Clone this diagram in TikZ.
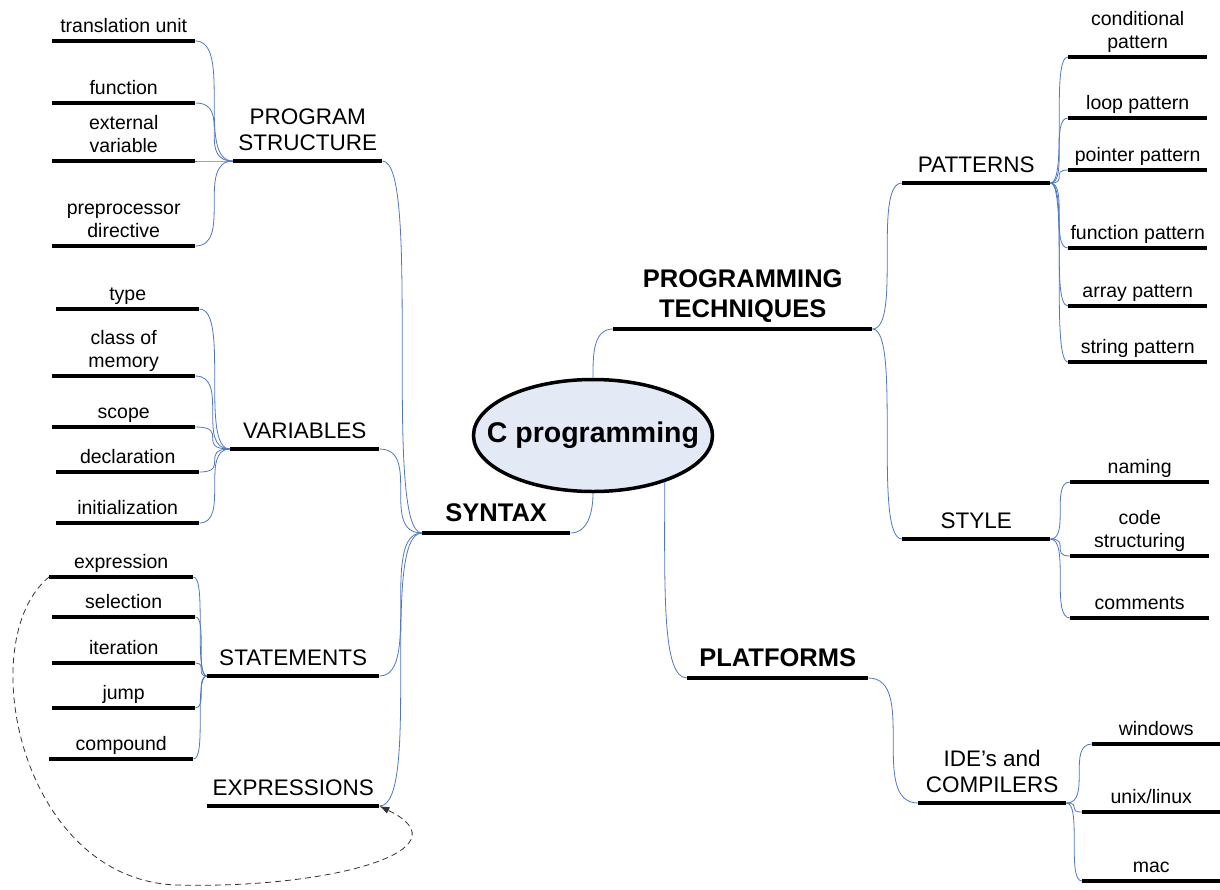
\documentclass[tikz,border=0pt]{standalone}
\usepackage{fontspec}
\setmainfont{Liberation Sans}
\usetikzlibrary{shapes.geometric,calc,arrows.meta}
\definecolor{linkblue}{RGB}{80,118,196}
\definecolor{hubfill}{RGB}{228,233,246}
\tikzset{
  bar/.style={anchor=south west, inner xsep=0pt, text depth=0pt, align=center,
    append after command={(\tikzlastnode.south west) edge[line width=4pt] (\tikzlastnode.south east)}},
  leaf/.style={bar, inner ysep=8.5pt, font=\fontsize{19.5}{22.5}\selectfont},
  topic/.style={bar, inner ysep=10pt, font=\fontsize{22.5}{26}\selectfont},
  branch/.style={bar, inner ysep=11.5pt, font=\fontsize{25.5}{30}\selectfont\bfseries},
  hub/.style={ellipse, draw, line width=3.5pt, fill=hubfill, inner sep=0pt,
    minimum width=239, minimum height=112, font=\fontsize{28.5}{32}\selectfont\bfseries},
  link/.style={draw=linkblue, line width=0.8pt},
  hlink/.style={link, to path={let \p1=(\tikztostart), \p2=(\tikztotarget) in
    .. controls (\x2,\y1) and (\x1,\y2) .. (\tikztotarget)}},
  backlink/.style={draw=black!80, line width=0.8pt, dash pattern=on 6pt off 4pt, -{Latex[length=10pt,width=7pt]}}
}
\begin{document}
\begin{tikzpicture}[x=1pt,y=1pt]
\useasboundingbox (0,0) rectangle (1220,-889);
\node[hub] (cp) at (593,-435.5) {\makebox[0pt]{C programming}};

\node[branch, minimum width=148] (syn) at (422,-533) {SYNTAX};
\node[topic, minimum width=149] (ps) at (233,-161) {PROGRAM\\STRUCTURE};
\node[leaf, minimum width=143] (tu) at (52,-41) {translation unit};
\node[leaf, minimum width=143] (fn) at (52,-103) {function};
\node[leaf, minimum width=143] (ev) at (52,-161) {external\\variable};
\node[leaf, minimum width=143] (pd) at (52,-246) {preprocessor\\directive};

\node[topic, minimum width=149] (var) at (230,-449) {VARIABLES};
\node[leaf, minimum width=143] (ty) at (56,-309) {type};
\node[leaf, minimum width=143] (cm) at (52,-376) {class of\\memory};
\node[leaf, minimum width=143] (sc) at (52,-427) {scope};
\node[leaf, minimum width=143] (de) at (56,-472) {declaration};
\node[leaf, minimum width=143] (init) at (56,-523) {initialization};

\node[topic, minimum width=172] (stm) at (207,-676) {STATEMENTS};
\node[leaf, minimum width=144] (ex) at (49,-577) {expression};
\node[leaf, minimum width=143] (se) at (52,-617) {selection};
\node[leaf, minimum width=143] (it) at (52,-663) {iteration};
\node[leaf, minimum width=143] (ju) at (52,-708) {jump};
\node[leaf, minimum width=144] (co) at (49,-759) {compound};
\node[topic, minimum width=172] (exs) at (207,-806) {EXPRESSIONS};

\node[branch, minimum width=259] (pt) at (613,-329) {PROGRAMMING\\TECHNIQUES};
\node[topic, minimum width=148] (pat) at (902,-183) {PATTERNS};
\node[leaf, minimum width=139] (cond) at (1068,-57) {conditional\\pattern};
\node[leaf, minimum width=139] (loop) at (1068,-118) {loop pattern};
\node[leaf, minimum width=139] (ptr) at (1068,-170) {pointer pattern};
\node[leaf, minimum width=139] (func) at (1068,-248) {function pattern};
\node[leaf, minimum width=139] (arr) at (1068,-306) {array pattern};
\node[leaf, minimum width=139] (str) at (1068,-362) {string pattern};
\node[topic, minimum width=148] (sty) at (902,-539) {STYLE};
\node[leaf, minimum width=139] (nam) at (1070,-482) {naming};
\node[leaf, minimum width=139] (cs) at (1070,-556) {code\\structuring};
\node[leaf, minimum width=139] (com) at (1070,-618) {comments};

\node[branch, minimum width=181] (plat) at (687,-678) {PLATFORMS};
\node[topic, minimum width=148] (ide) at (918,-803) {IDE’s and\\COMPILERS};
\node[leaf, minimum width=128] (win) at (1092,-744) {windows};
\node[leaf, minimum width=138] (unix) at (1082,-812) {unix/linux};
\node[leaf, minimum width=138] (mac) at (1082,-881) {mac};

\draw[link] (cp.north) to[out=90,in=180] (pt.south west);
\draw[link] (cp.south) to[out=-90,in=0] (syn.south east);
\draw[link] (cp.-33) to[out=-90,in=180,out distance=110pt,in distance=25pt] (plat.south west);
\foreach \c in {ps,var,stm,exs} \draw[hlink] (syn.south west) to (\c.south east);
\foreach \c in {tu,fn,ev,pd} \draw[hlink] (ps.south west) to (\c.south east);
\foreach \c in {ty,cm,sc,de,init} \draw[hlink] (var.south west) to (\c.south east);
\foreach \c in {ex,se,it,ju,co} \draw[hlink] (stm.south west) to (\c.south east);
\foreach \c in {pat,sty} \draw[hlink] (pt.south east) to (\c.south west);
\foreach \c in {cond,loop,ptr,func,arr,str} \draw[hlink] (pat.south east) to (\c.south west);
\foreach \c in {nam,cs,com} \draw[hlink] (sty.south east) to (\c.south west);
\draw[hlink] (plat.south east) to (ide.south west);
\foreach \c in {win,unix,mac} \draw[hlink] (ide.south east) to (\c.south west);

\draw[backlink] (ex.south west) .. controls (-28,-640) and (20,-880) .. (177,-885)
  .. controls (330,-889) and (470,-850) .. (exs.south east);
\end{tikzpicture}
\end{document}
